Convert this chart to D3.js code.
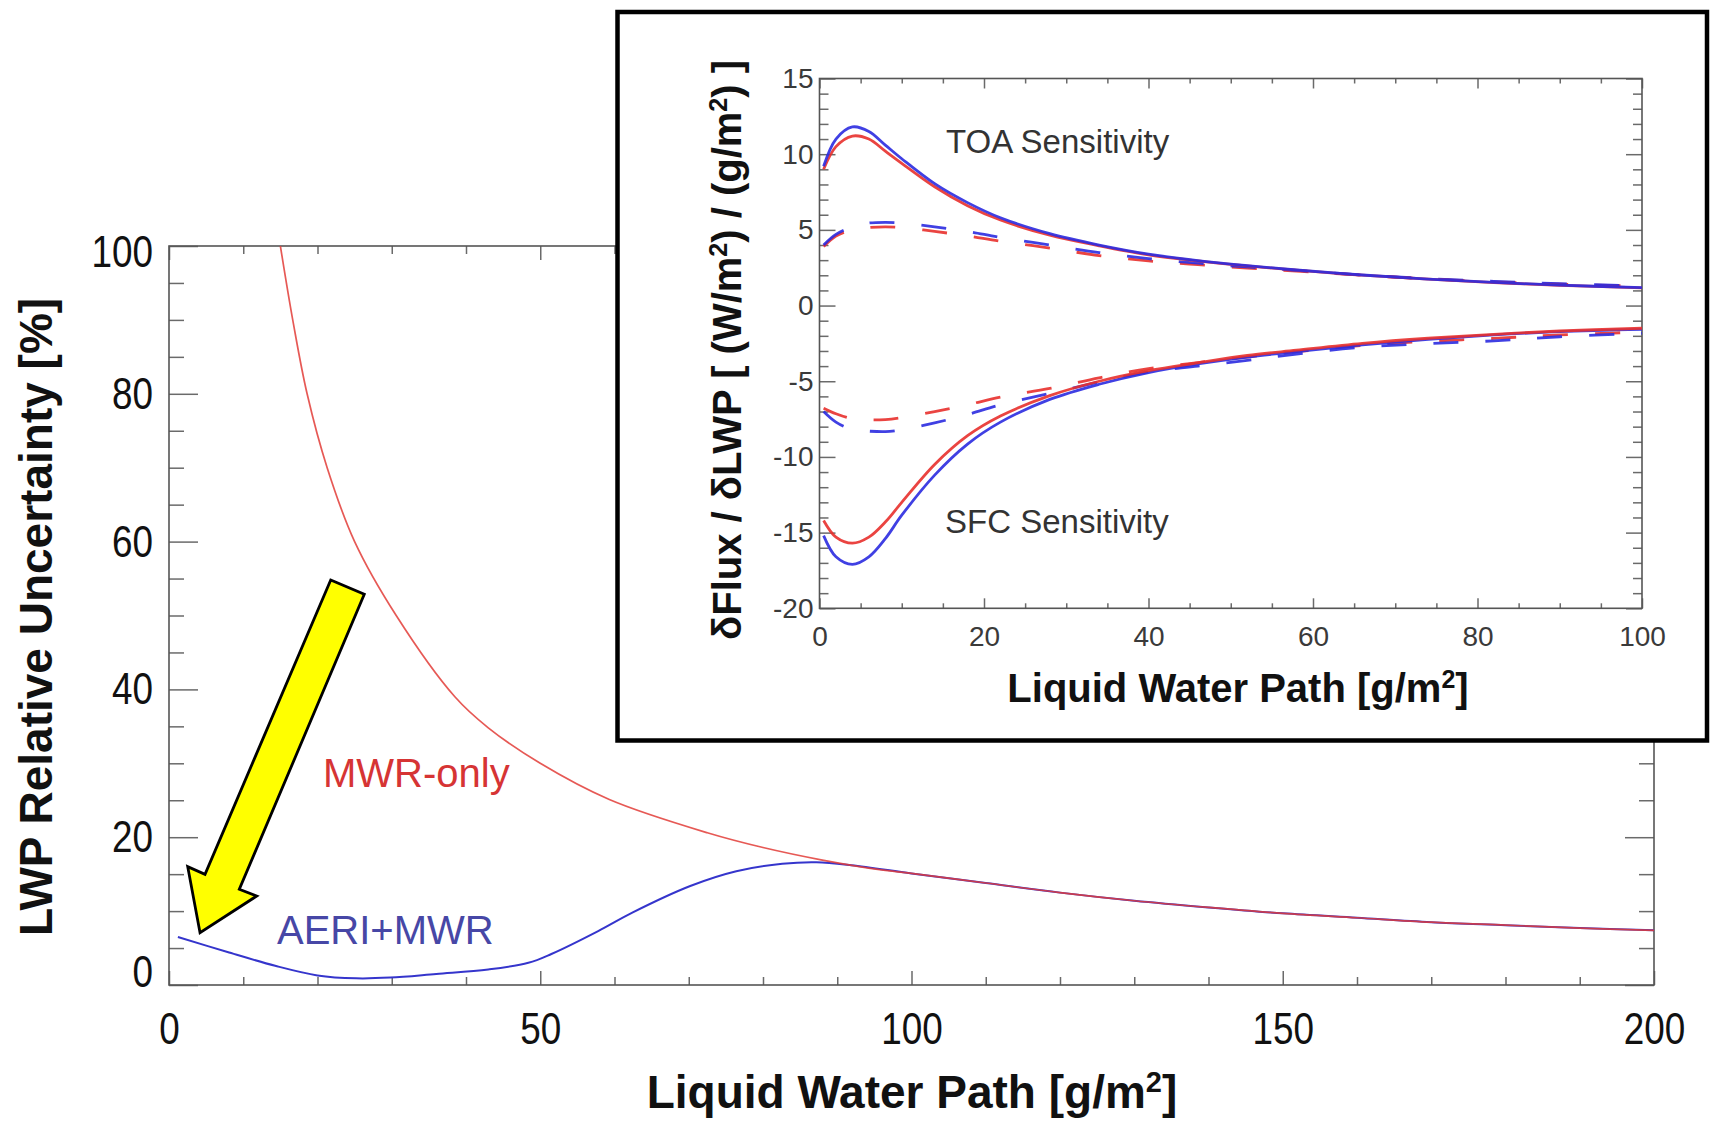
<!DOCTYPE html>
<html>
<head>
<meta charset="utf-8">
<script src="https://cdn.jsdelivr.net/npm/d3@7"></script>
<style>
body { margin: 0; background: #fff; }
svg { display: block; font-family: "Liberation Sans", Arial, Helvetica, sans-serif; }
</style>
</head>
<body>
<svg id="chart" width="1712" height="1121"></svg>
<script>
// ---- main panel: LWP relative uncertainty [%] vs LWP [g/m2]
var mwrLwp = [15, 16.7, 18.6, 21.3, 25, 30.6, 38.5, 43, 50, 59.3, 72.5, 80, 88, 95.7, 100, 110, 120, 130, 140, 150, 160, 170, 180, 190, 200];
var mwrUnc = [100, 89.8, 80, 70, 60, 50, 39.0, 34.8, 30.0, 25.1, 20.6, 18.6, 16.9, 15.6, 15.1, 13.8, 12.5, 11.4, 10.5, 9.7, 9.1, 8.5, 8.1, 7.7, 7.4];

var aeriLwp = [1.2, 8.1, 14.3, 20, 25.2, 29.8, 36, 43, 48.4, 51.5, 57.8, 62.4, 70.2, 76.4, 82.6, 87.2, 91.9, 100, 110, 120, 130, 140, 150, 160, 170, 180, 190, 200];
var aeriUnc = [6.5, 4.4, 2.6, 1.3, 0.9, 1.0, 1.5, 2.1, 3.0, 4.2, 7.3, 9.8, 13.4, 15.4, 16.4, 16.6, 16.2, 15.1, 13.8, 12.5, 11.4, 10.5, 9.7, 9.1, 8.5, 8.1, 7.7, 7.4];

var mainXTicks = [0, 50, 100, 150, 200];
var mainYTicks = [0, 20, 40, 60, 80, 100];

// yellow arrow outline, in data units of the main panel
var arrowLwp = [21.78, 26.3, 9.47, 11.81, 4.18, 2.52, 4.85];
var arrowUnc = [54.8, 52.87, 12.95, 12.04, 7.08, 16.01, 14.98];

// ---- inset: flux sensitivity to LWP
var senLwp = [0.5, 2, 4, 6, 8, 10, 14, 18, 22, 28, 34, 40, 46, 52, 58, 66, 74, 82, 90, 100];
var toaBlue = [9.2, 11.0, 11.8, 11.5, 10.6, 9.7, 8.05, 6.8, 5.8, 4.75, 4.0, 3.4, 2.97, 2.64, 2.35, 2.02, 1.75, 1.53, 1.35, 1.18];
var toaRed = [9.0, 10.5, 11.2, 11.0, 10.2, 9.4, 7.85, 6.6, 5.65, 4.65, 3.95, 3.35, 2.95, 2.62, 2.34, 2.01, 1.74, 1.52, 1.34, 1.17];
var toaBlueDash = [4.0, 4.7, 5.2, 5.45, 5.5, 5.45, 5.2, 4.9, 4.5, 4.0, 3.5, 3.1, 2.8, 2.55, 2.32, 2.02, 1.78, 1.6, 1.44, 1.3];
var toaRedDash = [3.9, 4.6, 5.0, 5.15, 5.2, 5.15, 4.9, 4.6, 4.25, 3.8, 3.3, 2.95, 2.7, 2.48, 2.28, 2.0, 1.76, 1.57, 1.42, 1.27];
var sfcBlue = [-15.2, -16.6, -17.1, -16.6, -15.4, -13.85, -11.2, -9.15, -7.7, -6.2, -5.2, -4.43, -3.86, -3.4, -3.05, -2.6, -2.23, -1.94, -1.72, -1.57];
var sfcRed = [-14.2, -15.3, -15.7, -15.3, -14.3, -13.0, -10.5, -8.6, -7.3, -5.95, -5.0, -4.3, -3.78, -3.3, -2.95, -2.5, -2.16, -1.9, -1.68, -1.5];
var sfcBlueDash = [-7.0, -7.7, -8.2, -8.3, -8.33, -8.2, -7.75, -7.2, -6.55, -5.8, -5.05, -4.38, -4.0, -3.62, -3.2, -2.75, -2.52, -2.33, -2.06, -1.83];
var sfcRedDash = [-6.78, -7.15, -7.48, -7.55, -7.53, -7.4, -7.0, -6.55, -6.05, -5.47, -4.77, -4.17, -3.77, -3.4, -3.05, -2.63, -2.36, -2.17, -1.94, -1.75];

var insetXTicks = [0, 20, 40, 60, 80, 100];
var insetYTicks = [-20, -15, -10, -5, 0, 5, 10, 15];

var FRAME = '#555';
var TICK = '#6a6a6a';
var RED = '#e23c37';
var BLUE = '#3535cc';

var svg = d3.select('#chart');
svg.append('rect').attr('width', 1712).attr('height', 1121).attr('fill', '#fff');

function pairs(xs, ys) {
  return xs.map(function(v, i) { return [v, ys[i]]; });
}

// plain hyphen for negatives, like the original plot
function plain(d) { return String(d); }

function addAxis(parent, axis, values, size, pad, tr, labels) {
  axis.tickValues(values).tickSize(size).tickSizeOuter(0).tickPadding(pad);
  axis.tickFormat(labels ? plain : '');
  var g = parent.append('g').attr('transform', tr).call(axis);
  g.select('.domain').remove();
  g.attr('font-family', null).attr('font-size', null);
  g.selectAll('.tick line').attr('stroke', TICK).attr('stroke-width', 1.5);
  return g;
}

// condense tick labels horizontally (narrow face in the reference)
function squeeze(sel, k) {
  sel.each(function() {
    var t = d3.select(this);
    var tx = +t.attr('x') || 0, ty = +t.attr('y') || 0;
    t.attr('x', null).attr('y', null)
      .attr('transform', 'translate(' + tx + ',' + ty + ') scale(' + k + ',1)');
  });
}

//------------------------------------------------------------------
// main panel
var x = d3.scaleLinear().domain([0, 200]).range([169, 1654]);
var y = d3.scaleLinear().domain([0, 100]).range([985, 246]);

var mainG = svg.append('g');

var minorX = d3.range(0, 201, 10).filter(function(v) { return v % 50 !== 0; });
var minorY = d3.range(0, 101, 5).filter(function(v) { return v % 20 !== 0; });

var bx = addAxis(mainG, d3.axisBottom(x), mainXTicks, -14, 27, 'translate(0,985)', true);
addAxis(mainG, d3.axisBottom(x), minorX, -8, 0, 'translate(0,985)', false);
addAxis(mainG, d3.axisTop(x), mainXTicks, -14, 0, 'translate(0,246)', false);
addAxis(mainG, d3.axisTop(x), minorX, -8, 0, 'translate(0,246)', false);
var ly = addAxis(mainG, d3.axisLeft(y), mainYTicks, -29, 16, 'translate(169,0)', true);
addAxis(mainG, d3.axisLeft(y), minorY, -15, 0, 'translate(169,0)', false);
addAxis(mainG, d3.axisRight(y), mainYTicks, -29, 0, 'translate(1654,0)', false);
addAxis(mainG, d3.axisRight(y), minorY, -15, 0, 'translate(1654,0)', false);

bx.selectAll('text').attr('font-size', 45).attr('fill', '#111');
ly.selectAll('text').attr('font-size', 45).attr('fill', '#111');
ly.selectAll('.tick').filter(function(d) { return d === 0; }).select('text').attr('dy', '0.03em');
ly.selectAll('.tick').filter(function(d) { return d === 100; }).select('text').attr('dy', '0.45em');
squeeze(bx.selectAll('text'), 0.82);
squeeze(ly.selectAll('text'), 0.82);

mainG.append('rect')
  .attr('x', x(0)).attr('y', y(100))
  .attr('width', x(200) - x(0)).attr('height', y(0) - y(100))
  .attr('fill', 'none').attr('stroke', FRAME).attr('stroke-width', 1.6);

svg.append('clipPath').attr('id', 'mainClip')
  .append('rect').attr('x', x(0)).attr('y', y(100))
  .attr('width', x(200) - x(0)).attr('height', y(0) - y(100));

var mainLine = d3.line()
  .x(function(d) { return x(d[0]); })
  .y(function(d) { return y(d[1]); })
  .curve(d3.curveCatmullRom.alpha(0.5));

var mainLines = mainG.append('g').attr('clip-path', 'url(#mainClip)');
mainLines.append('path').attr('d', mainLine(pairs(aeriLwp, aeriUnc)))
  .attr('fill', 'none').attr('stroke', BLUE).attr('stroke-width', 2);
mainLines.append('path').attr('d', mainLine(pairs(mwrLwp, mwrUnc)))
  .attr('fill', 'none').attr('stroke', RED).attr('stroke-width', 1.7).attr('stroke-opacity', 0.85);

mainG.append('text').attr('x', 323).attr('y', 787)
  .attr('font-size', 40).attr('fill', '#d63434').text('MWR-only');
mainG.append('text').attr('x', 277).attr('y', 944)
  .attr('font-size', 40).attr('fill', '#4747a6').text('AERI+MWR');

var arrowLine = d3.line()
  .x(function(d) { return x(d[0]); })
  .y(function(d) { return y(d[1]); });
mainG.append('path')
  .attr('d', arrowLine(pairs(arrowLwp, arrowUnc)) + 'Z')
  .attr('fill', '#ffff00').attr('stroke', '#000').attr('stroke-width', 2.8)
  .attr('stroke-linejoin', 'miter');

// axis titles
var xt = mainG.append('text').attr('x', 912).attr('y', 1108)
  .attr('text-anchor', 'middle').attr('font-size', 46).attr('font-weight', 'bold').attr('fill', '#111');
xt.append('tspan').text('Liquid Water Path [g/m');
xt.append('tspan').attr('font-size', 29).attr('dy', -16).text('2');
xt.append('tspan').attr('dy', 16).text(']');

mainG.append('text').attr('transform', 'translate(52,617) rotate(-90)')
  .attr('text-anchor', 'middle').attr('font-size', 46).attr('font-weight', 'bold').attr('fill', '#111')
  .text('LWP Relative Uncertainty [%]');

//------------------------------------------------------------------
// inset panel
var insetG = svg.append('g');
insetG.append('rect').attr('x', 617.5).attr('y', 12)
  .attr('width', 1707 - 617.5).attr('height', 740.5 - 12)
  .attr('fill', '#fff').attr('stroke', '#000').attr('stroke-width', 4.5);

var ix = d3.scaleLinear().domain([0, 100]).range([819.5, 1642]);
var iy = d3.scaleLinear().domain([-20, 15]).range([608.3, 78.5]);

var iMinorX = d3.range(0, 101, 5).filter(function(v) { return v % 20 !== 0; });
var iMinorY = d3.range(-20, 16, 1).filter(function(v) { return v % 5 !== 0; });

var ibx = addAxis(insetG, d3.axisBottom(ix), insetXTicks, -10, 18, 'translate(0,608.3)', true);
addAxis(insetG, d3.axisBottom(ix), iMinorX, -5, 0, 'translate(0,608.3)', false);
addAxis(insetG, d3.axisTop(ix), insetXTicks, -10, 0, 'translate(0,78.5)', false);
addAxis(insetG, d3.axisTop(ix), iMinorX, -5, 0, 'translate(0,78.5)', false);
var ily = addAxis(insetG, d3.axisLeft(iy), insetYTicks, -16, 6, 'translate(819.5,0)', true);
addAxis(insetG, d3.axisLeft(iy), iMinorY, -9, 0, 'translate(819.5,0)', false);
addAxis(insetG, d3.axisRight(iy), insetYTicks, -16, 0, 'translate(1642,0)', false);
addAxis(insetG, d3.axisRight(iy), iMinorY, -9, 0, 'translate(1642,0)', false);

ibx.selectAll('text').attr('font-size', 28).attr('fill', '#3a3a3a');
ily.selectAll('text').attr('font-size', 28).attr('fill', '#3a3a3a');

insetG.append('rect')
  .attr('x', ix(0)).attr('y', iy(15))
  .attr('width', ix(100) - ix(0)).attr('height', iy(-20) - iy(15))
  .attr('fill', 'none').attr('stroke', FRAME).attr('stroke-width', 1.6);

svg.append('clipPath').attr('id', 'insetClip')
  .append('rect').attr('x', ix(0)).attr('y', iy(15))
  .attr('width', ix(100) - ix(0)).attr('height', iy(-20) - iy(15));

var insetLine = d3.line()
  .x(function(d) { return ix(d[0]); })
  .y(function(d) { return iy(d[1]); })
  .curve(d3.curveCatmullRom.alpha(0.5));

var series = [
  {v: sfcRedDash, c: '#e8302c', dash: true},
  {v: sfcBlueDash, c: '#2b2be0', dash: true},
  {v: toaRedDash, c: '#e8302c', dash: true},
  {v: toaBlueDash, c: '#2b2be0', dash: true},
  {v: sfcBlue, c: '#2b2be0', dash: false},
  {v: sfcRed, c: '#e8302c', dash: false},
  {v: toaRed, c: '#e8302c', dash: false},
  {v: toaBlue, c: '#2b2be0', dash: false}
];

var insetLines = insetG.append('g').attr('clip-path', 'url(#insetClip)');
insetLines.selectAll('path').data(series).enter().append('path')
  .attr('d', function(s) { return insetLine(pairs(senLwp, s.v)); })
  .attr('fill', 'none')
  .attr('stroke', function(s) { return s.c; })
  .attr('stroke-width', 2.8)
  .attr('stroke-opacity', 0.9)
  .attr('stroke-dasharray', function(s) { return s.dash ? '25,27' : null; });

insetG.append('text').attr('x', 946).attr('y', 153)
  .attr('font-size', 33).attr('fill', '#333').text('TOA Sensitivity');
insetG.append('text').attr('x', 945).attr('y', 533)
  .attr('font-size', 33).attr('fill', '#333').text('SFC Sensitivity');

var ixt = insetG.append('text').attr('x', 1238).attr('y', 702)
  .attr('text-anchor', 'middle').attr('font-size', 40).attr('font-weight', 'bold').attr('fill', '#111');
ixt.append('tspan').text('Liquid Water Path [g/m');
ixt.append('tspan').attr('font-size', 25).attr('dy', -14).text('2');
ixt.append('tspan').attr('dy', 14).text(']');

var iyt = insetG.append('text').attr('transform', 'translate(741,350) rotate(-90)')
  .attr('text-anchor', 'middle').attr('font-size', 40).attr('font-weight', 'bold').attr('fill', '#111');
iyt.append('tspan').text('\u03b4Flux / \u03b4LWP [ (W/m');
iyt.append('tspan').attr('font-size', 25).attr('dy', -14).text('2');
iyt.append('tspan').attr('dy', 14).text(') / (g/m');
iyt.append('tspan').attr('font-size', 25).attr('dy', -14).text('2');
iyt.append('tspan').attr('dy', 14).text(') ]');
</script>
</body>
</html>
